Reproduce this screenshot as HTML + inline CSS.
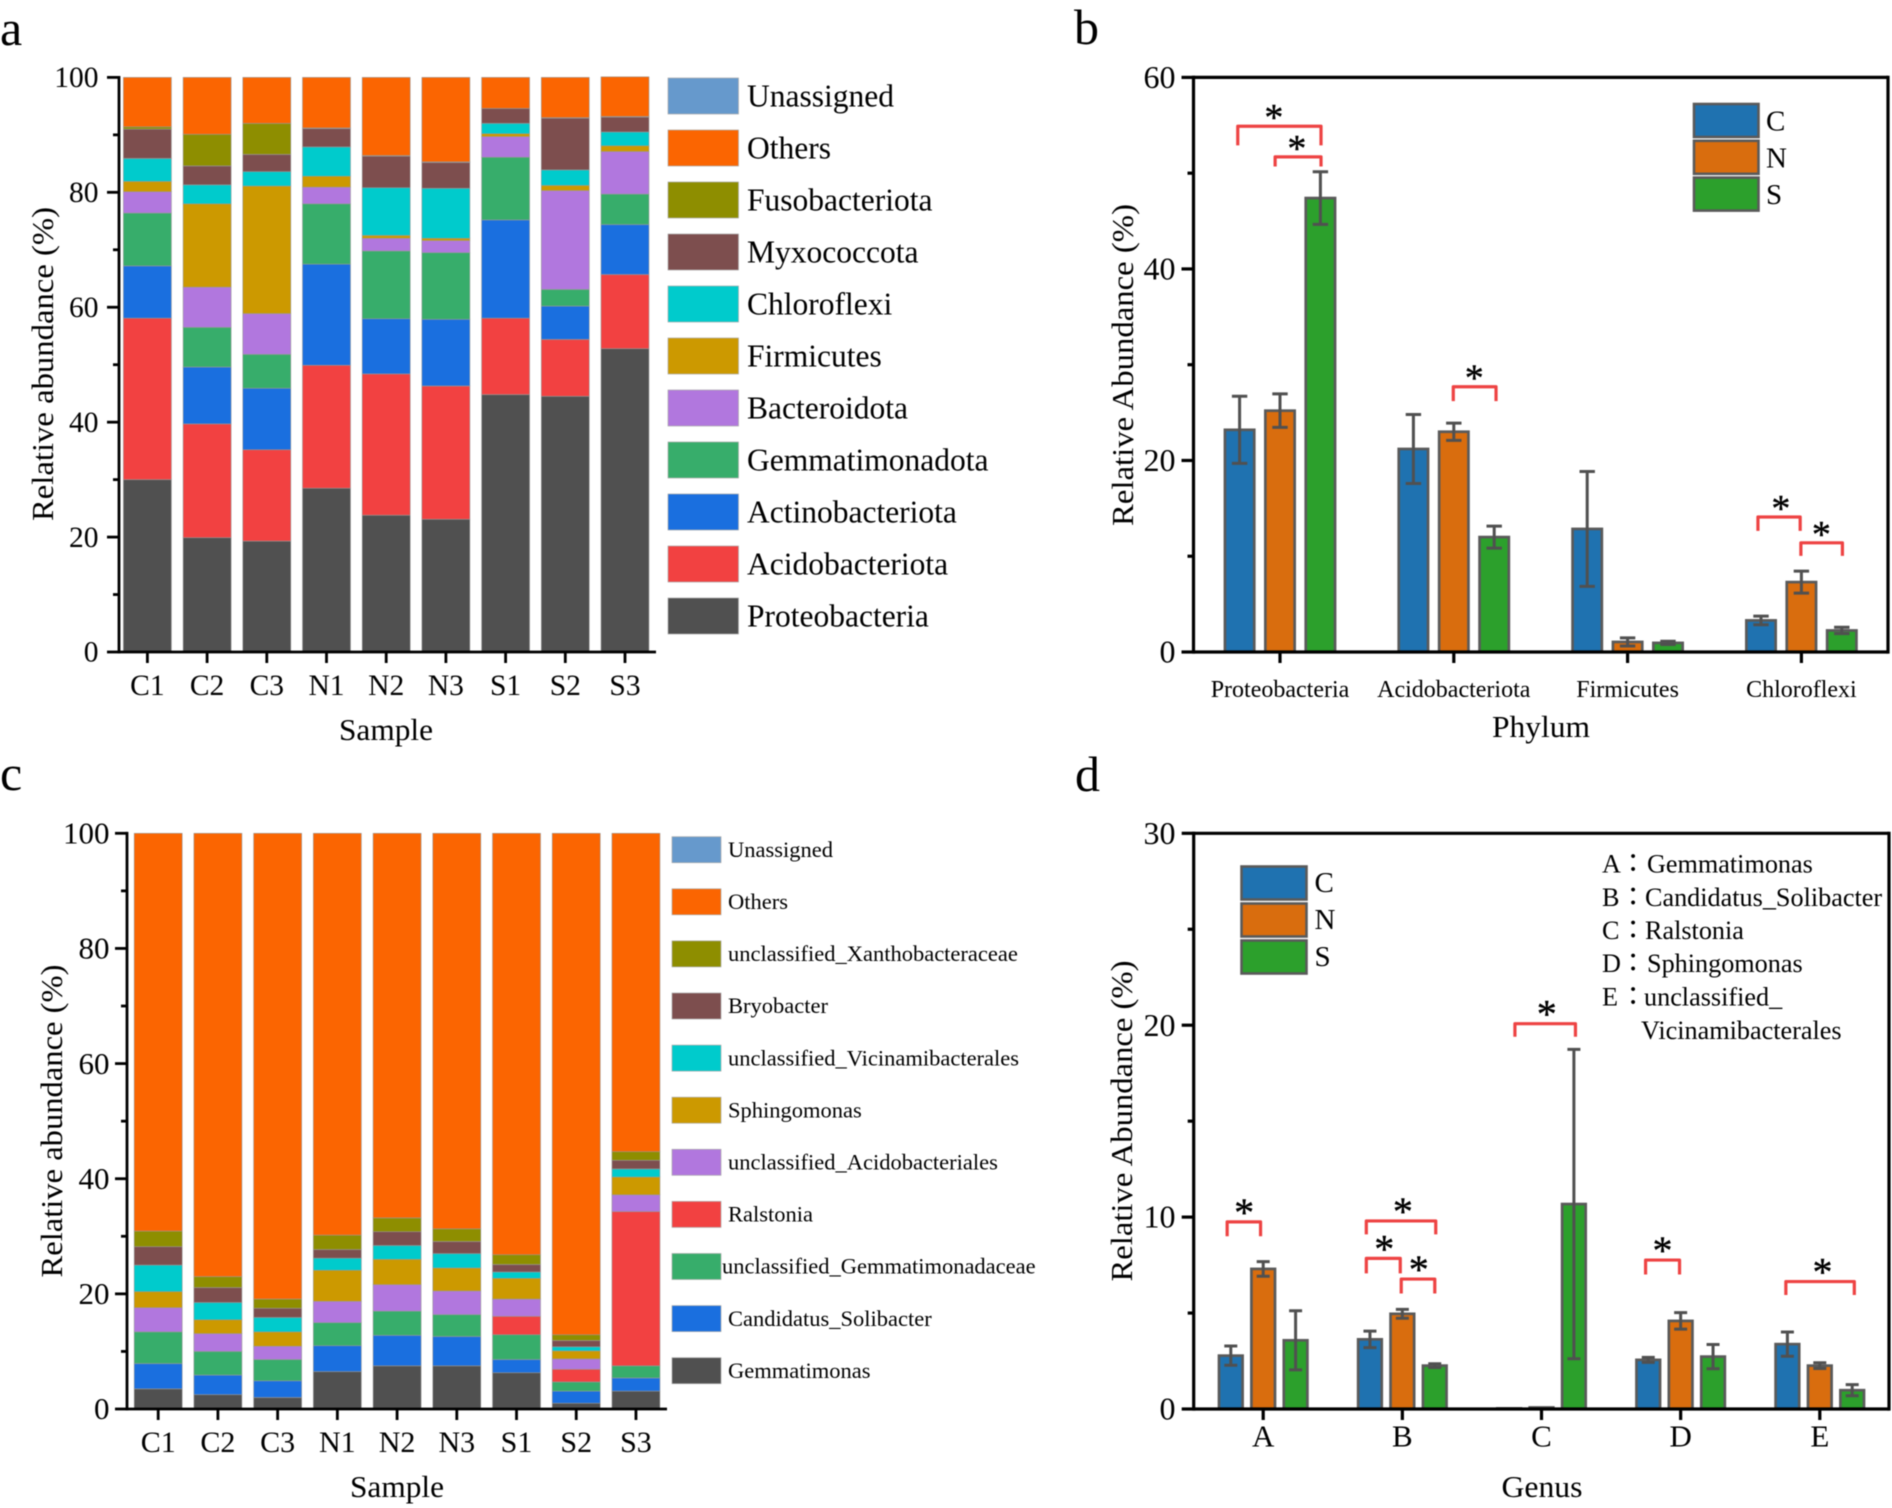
<!DOCTYPE html>
<html lang="en">
<head>
<meta charset="utf-8">
<title>Relative abundance charts</title>
<style>
html,body{margin:0;padding:0;background:#fff;}
svg{display:block;font-family:"Liberation Serif","Noto Serif CJK JP",serif;fill:#000;filter:blur(0.5px);}
</style>
</head>
<body>
<svg id="figure" xmlns="http://www.w3.org/2000/svg" width="1892" height="1508" viewBox="0 0 1892 1508">
<rect width="1892" height="1508" fill="#fff"/>
<g id="panel-a"></g>
<g id="panel-b"></g>
<g id="panel-c"></g>
<g id="panel-d"></g>

<text x="0" y="45" font-size="50">a</text>
<text x="1074" y="44" font-size="50">b</text>
<text x="0" y="790" font-size="50">c</text>
<text x="1075" y="791" font-size="50">d</text>

<text transform="translate(53,364) rotate(-90)" text-anchor="middle" font-size="31" textLength="314" lengthAdjust="spacingAndGlyphs">Relative abundance (%)</text>
<text x="386" y="740" text-anchor="middle" font-size="31" textLength="94" lengthAdjust="spacingAndGlyphs">Sample</text>

<text transform="translate(1133,365) rotate(-90)" text-anchor="middle" font-size="31" textLength="322" lengthAdjust="spacingAndGlyphs">Relative Abundance (%)</text>
<text x="1541" y="737" text-anchor="middle" font-size="31" textLength="98" lengthAdjust="spacingAndGlyphs">Phylum</text>

<text transform="translate(62,1121) rotate(-90)" text-anchor="middle" font-size="31" textLength="313" lengthAdjust="spacingAndGlyphs">Relative abundance (%)</text>
<text x="397" y="1497" text-anchor="middle" font-size="31" textLength="94" lengthAdjust="spacingAndGlyphs">Sample</text>

<text transform="translate(1132,1121) rotate(-90)" text-anchor="middle" font-size="31" textLength="321" lengthAdjust="spacingAndGlyphs">Relative Abundance (%)</text>
<text x="1542" y="1497" text-anchor="middle" font-size="31" textLength="81" lengthAdjust="spacingAndGlyphs">Genus</text>

<g font-size="26.2">
<text y="872.5"><tspan x="1602">A</tspan><tspan x="1620" font-family="'Noto Sans CJK JP',sans-serif">：</tspan><tspan x="1647">Gemmatimonas</tspan></text>
<text y="905.8"><tspan x="1602">B</tspan><tspan x="1620" font-family="'Noto Sans CJK JP',sans-serif">：</tspan><tspan x="1645">Candidatus_Solibacter</tspan></text>
<text y="939"><tspan x="1602">C</tspan><tspan x="1620" font-family="'Noto Sans CJK JP',sans-serif">：</tspan><tspan x="1645">Ralstonia</tspan></text>
<text y="972.2"><tspan x="1602">D</tspan><tspan x="1620" font-family="'Noto Sans CJK JP',sans-serif">：</tspan><tspan x="1647">Sphingomonas</tspan></text>
<text y="1005.4"><tspan x="1602">E</tspan><tspan x="1620" font-family="'Noto Sans CJK JP',sans-serif">：</tspan><tspan x="1644">unclassified_</tspan></text>
<text x="1641" y="1039">Vicinamibacterales</text>
</g>
</svg>

<script>
// ---------- Panel a data (percent per sample) ----------
const sampleLabels = ['C1','C2','C3','N1','N2','N3','S1','S2','S3'];
const stackTicks = [0,20,40,60,80,100];
const phylumNames = ['Proteobacteria','Acidobacteriota','Actinobacteriota','Gemmatimonadota','Bacteroidota','Firmicutes','Chloroflexi','Myxococcota','Fusobacteriota','Others','Unassigned'];
const aProteobacteria = [30.0,19.9,19.3,28.5,23.8,23.1,44.8,44.5,52.8];
const aAcidobacteriota = [28.1,19.8,15.9,21.4,24.6,23.2,13.3,9.9,12.9];
const aActinobacteriota = [9.1,9.9,10.7,17.6,9.6,11.6,17.1,5.8,8.7];
const aGemmatimonadota = [9.2,6.9,5.9,10.5,11.8,11.6,10.9,2.9,5.3];
const aBacteroidota = [3.7,7.0,7.1,2.9,2.2,2.1,3.6,17.2,7.4];
const aFirmicutes = [1.8,14.5,22.2,1.9,0.5,0.4,0.5,0.9,1.0];
const aChloroflexi = [4.0,3.3,2.5,5.1,8.3,8.7,1.8,2.7,2.4];
const aMyxococcota = [5.1,3.3,3.0,3.2,5.5,4.5,2.6,9.0,2.6];
const aFusobacteriota = [0.4,5.5,5.4,0.1,0.1,0.1,0,0.1,0.1];
const aOthers = [8.6,9.9,8.0,8.8,13.6,14.7,5.4,7.0,6.9];
const aUnassigned = [0,0,0,0,0,0,0,0,0];

// ---------- Panel c data (percent per sample) ----------
const genusNames = ['Gemmatimonas','Candidatus_Solibacter','unclassified_Gemmatimonadaceae','Ralstonia','unclassified_Acidobacteriales','Sphingomonas','unclassified_Vicinamibacterales','Bryobacter','unclassified_Xanthobacteraceae','Others','Unassigned'];
const cGemmatimonas = [3.5,2.5,2.0,6.5,7.5,7.5,6.3,1.0,3.1];
const cSolibacter = [4.4,3.4,2.9,4.5,5.3,5.1,2.3,2.1,2.3];
const cGemmatimonadaceae = [5.5,4.1,3.7,4.0,4.2,3.8,4.3,1.6,2.1];
const cRalstonia = [0,0,0,0,0,0,3.2,2.2,26.8];
const cAcidobacteriales = [4.2,3.1,2.3,3.7,4.6,4.1,3.0,1.8,2.9];
const cSphingomonas = [2.8,2.4,2.5,5.4,4.4,4.0,3.6,1.4,3.1];
const cVicinamibacterales = [4.6,3.0,2.5,2.1,2.4,2.5,1.1,0.7,1.4];
const cBryobacter = [3.2,2.6,1.6,1.5,2.4,2.1,1.3,1.1,1.5];
const cXanthobacteraceae = [2.7,1.9,1.6,2.5,2.4,2.2,1.7,1.0,1.5];
const cOthers = [69.1,77.0,80.9,69.8,66.8,68.7,73.2,87.1,55.3];
const cUnassigned = [0,0,0,0,0,0,0,0,0];

// ---------- Panel b data (mean and error per phylum) ----------
const treatmentNames = ['C','N','S'];
const bCategories = ['Proteobacteria','Acidobacteriota','Firmicutes','Chloroflexi'];
const bTicks = [0,20,40,60];
const bMeanC = [23.2,21.2,12.85,3.3];
const bMeanN = [25.2,23.0,1.05,7.3];
const bMeanS = [47.4,12.0,0.95,2.25];
const bErrC = [3.5,3.6,6.0,0.45];
const bErrN = [1.75,0.9,0.42,1.15];
const bErrS = [2.75,1.15,0.17,0.33];
// bracket: category index, left and right in category units, top and foot values, star offset
const bBrackets = [[0,-0.243,0.236,54.9,52.9,-0.035],[0,-0.028,0.236,51.7,50.7,0.097],[1,-0.003,0.243,27.7,26.2,0.118],[3,-0.25,-0.007,14.1,12.65,-0.118],[3,-0.003,0.236,11.4,10.04,0.115]];

// ---------- Panel d data (mean and error per genus) ----------
const dCategories = ['A','B','C','D','E'];
const dTicks = [0,10,20,30];
const dMeanC = [2.78,3.63,0.03,2.56,3.38];
const dMeanN = [7.3,4.96,0.08,4.59,2.26];
const dMeanS = [3.58,2.26,10.68,2.73,0.98];
const dErrC = [0.5,0.43,0,0.13,0.63];
const dErrN = [0.38,0.23,0,0.43,0.15];
const dErrS = [1.54,0.1,8.06,0.63,0.29];
const dBrackets = [[0,-0.259,-0.019,9.75,9.0,-0.137],[1,-0.259,0.24,9.8,9.1,0.004],[1,-0.259,-0.015,7.85,7.07,-0.13],[1,-0.008,0.233,6.77,6.02,0.118],[2,-0.191,0.244,20.08,19.4,0.038],[3,-0.252,-0.008,7.76,7.01,-0.13],[4,-0.244,0.248,6.64,5.94,0.019]];

const phylumColors = ['#505050','#f24141','#1a6fdf','#37ad6b','#b177de','#cc9900','#00cbcc','#7d4e4e','#8e8e00','#fb6501','#6699cc'];
const genusColors = ['#505050','#1a6fdf','#37ad6b','#f24141','#b177de','#cc9900','#00cbcc','#7d4e4e','#8e8e00','#fb6501','#6699cc'];
const treatmentColors = ['#1f72b0','#d96d0e','#2ca02c'];

const NS = 'http://www.w3.org/2000/svg';
function el(tag, attrs, parent){
  const node = document.createElementNS(NS, tag);
  for (const key in attrs) node.setAttribute(key, attrs[key]);
  parent.appendChild(node);
  return node;
}

function drawAxes(g, cfg, y, cx){
  const axis = el('g', {}, g);
  
  
  const half = cfg.axisWidth / 2;
  const lineStyle = {stroke:'#000','stroke-width':cfg.axisWidth};
  const yAxis = el('line', Object.assign({x1:cfg.x0,x2:cfg.x0,y1:cfg.y1-half,y2:cfg.y0+half}, lineStyle), axis);
  
  
  const xAxis = el('line', Object.assign({x1:cfg.x0,x2:cfg.x1,y1:cfg.y0,y2:cfg.y0}, lineStyle), axis);
  
  
  if (cfg.box){
    const top = el('line', Object.assign({x1:cfg.x0,x2:cfg.x1,y1:cfg.y1,y2:cfg.y1}, lineStyle), axis);
    
    
    const right = el('line', Object.assign({x1:cfg.x1,x2:cfg.x1,y1:cfg.y1-half,y2:cfg.y0+half}, lineStyle), axis);
    
    
  }
  cfg.ticks.forEach(function(v, i){
    const t = el('line', Object.assign({x1:cfg.x0-12,x2:cfg.x0,y1:y(v),y2:y(v)}, lineStyle), axis);
    
    
    const label = el('text', {x:cfg.tickRight,y:y(v)+cfg.tickFont*0.33,'text-anchor':'end','font-size':cfg.tickFont}, axis);
    label.textContent = v;
    
    
    if (i < cfg.ticks.length - 1){
      const mv = (v + cfg.ticks[i+1]) / 2;
      const m = el('line', Object.assign({x1:cfg.x0-6,x2:cfg.x0,y1:y(mv),y2:y(mv)}, lineStyle), axis);
      
      
    }
  });
  cfg.categories.forEach(function(c, i){
    const t = el('line', Object.assign({x1:cx(i),x2:cx(i),y1:cfg.y0,y2:cfg.y0+11}, lineStyle), axis);
    
    
    const label = el('text', {x:cx(i),y:cfg.catBase,'text-anchor':'middle','font-size':cfg.catFont}, axis);
    label.textContent = c;
    
    
  });
}

function drawStack(g, cfg, series, names, colors){
  const y = function(v){ return cfg.y0 - v / cfg.max * (cfg.y0 - cfg.y1); };
  const cx = function(i){ return cfg.first + i * cfg.step; };
  const bars = el('g', {}, g);
  
  
  cfg.categories.forEach(function(c, i){
    let base = 0;
    series.forEach(function(vals, s){
      const v = vals[i];
      if (v <= 0) return;
      const r = el('rect', {x:cx(i)-cfg.width/2,y:y(base+v),width:cfg.width,height:y(base)-y(base+v),fill:colors[s],stroke:'#999','stroke-width':0.6}, bars);
      
      
      base += v;
    });
  });
  drawAxes(g, cfg, y, cx);
  const legend = el('g', {}, g);
  
  
  names.forEach(function(name, s){
    const row = names.length - 1 - s;
    const top = cfg.legTop + row * cfg.legStep;
    const sw = el('rect', {x:cfg.legX,y:top,width:cfg.legW,height:cfg.legH,fill:colors[s],stroke:'#aaa','stroke-width':0.7}, legend);
    
    
    const tx = (name === 'unclassified_Gemmatimonadaceae') ? cfg.legTextX - 6 : cfg.legTextX;
    const label = el('text', {x:tx,y:top+cfg.legH/2+cfg.legFont*0.32+cfg.legShift,'font-size':cfg.legFont}, legend);
    label.textContent = name;
    
    
  });
}

function drawGrouped(g, cfg, means, errs, brackets){
  const y = function(v){ return cfg.y0 - v / cfg.max * (cfg.y0 - cfg.y1); };
  const cx = function(i){ return cfg.first + i * cfg.step; };
  const bars = el('g', {}, g);
  
  
  const sw = 2.7;
  cfg.categories.forEach(function(c, i){
    means.forEach(function(vals, s){
      const x = cx(i) + (s - 1) * cfg.offset;
      const v = vals[i];
      const r = el('rect', {x:x-cfg.width/2+sw/2,y:y(v),width:cfg.width-sw,height:y(0)-y(v),fill:treatmentColors[s],stroke:'#5a5a5a','stroke-width':sw}, bars);
      
      
      const e = errs[s][i];
      if (e > 0){
        const cap = cfg.cap;
        const path = 'M'+(x-cap)+' '+y(v+e)+'H'+(x+cap)+'M'+x+' '+y(v+e)+'V'+y(v-e)+'M'+(x-cap)+' '+y(v-e)+'H'+(x+cap);
        const err = el('path', {d:path,fill:'none',stroke:'#505050','stroke-width':3}, bars);
        
        
      }
    });
  });
  drawAxes(g, cfg, y, cx);
  const marks = el('g', {}, g);
  
  
  brackets.forEach(function(b){
    const x1 = cx(b[0]) + b[1] * cfg.step;
    const x2 = cx(b[0]) + b[2] * cfg.step;
    const path = 'M'+x1+' '+y(b[4])+'V'+y(b[3])+'H'+x2+'V'+y(b[4]);
    const br = el('path', {d:path,fill:'none',stroke:'#ee4343','stroke-width':3.2,'stroke-linejoin':'round'}, marks);
    
    
    const st = el('text', {x:cx(b[0])+b[5]*cfg.step,y:y(b[3])+cfg.starDy,'text-anchor':'middle','font-size':cfg.starFont,stroke:'#000','stroke-width':0.4}, marks);
    st.textContent = '*';
    
    
  });
  const legend = el('g', {}, g);
  
  
  treatmentNames.forEach(function(name, s){
    const top = cfg.legTop + s * cfg.legStep;
    const k = el('rect', {x:cfg.legX,y:top,width:cfg.legW,height:cfg.legH,fill:treatmentColors[s],stroke:'#5a5a5a','stroke-width':2.6}, legend);
    
    
    const label = el('text', {x:cfg.legTextX,y:top+cfg.legH/2+cfg.legBase,'font-size':29}, legend);
    label.textContent = name;
    
    
  });
}

drawStack(document.getElementById('panel-a'), {
  x0:119,x1:656,y0:652,y1:77.4,max:100,first:147.4,step:59.7,width:48,axisWidth:2.8,
  ticks:stackTicks,categories:sampleLabels,tickRight:98.5,tickFont:29.5,catBase:695,catFont:29.5,
  legX:668,legTop:78,legW:70.5,legH:36,legStep:52,legTextX:747,legFont:31.5,legShift:0.4
},[aProteobacteria,aAcidobacteriota,aActinobacteriota,aGemmatimonadota,aBacteroidota,aFirmicutes,aChloroflexi,aMyxococcota,aFusobacteriota,aOthers,aUnassigned],phylumNames,phylumColors);

drawGrouped(document.getElementById('panel-b'), {
  x0:1193.5,x1:1888,y0:652,y1:77.4,max:60,first:1280,step:173.8,offset:40.4,width:32,cap:7.7,box:true,axisWidth:3.2,
  ticks:bTicks,categories:bCategories,tickRight:1175.5,tickFont:32,catBase:697,catFont:24,starFont:38,starDy:4,
  legX:1694,legTop:104,legW:64.5,legH:33,legStep:36.8,legTextX:1766,legBase:10
},[bMeanC,bMeanN,bMeanS],[bErrC,bErrN,bErrS],bBrackets);

drawStack(document.getElementById('panel-c'), {
  x0:127,x1:667,y0:1409,y1:833.3,max:100,first:158.2,step:59.72,width:48,axisWidth:2.8,
  ticks:stackTicks,categories:sampleLabels,tickRight:109.5,tickFont:31,catBase:1452,catFont:30,
  legX:672,legTop:836.7,legW:49,legH:26,legStep:52.1,legTextX:728,legFont:22.5,legShift:0
},[cGemmatimonas,cSolibacter,cGemmatimonadaceae,cRalstonia,cAcidobacteriales,cSphingomonas,cVicinamibacterales,cBryobacter,cXanthobacteraceae,cOthers,cUnassigned],genusNames,genusColors);

drawGrouped(document.getElementById('panel-d'), {
  x0:1193.7,x1:1889,y0:1409,y1:833.3,max:30,first:1263.2,step:139.15,offset:32.4,width:26.3,cap:6.5,box:true,axisWidth:3.2,
  ticks:dTicks,categories:dCategories,tickRight:1175.5,tickFont:32,catBase:1446.5,catFont:31,starFont:40,starDy:4,
  legX:1241.5,legTop:866.5,legW:65,legH:33,legStep:37,legTextX:1314.5,legBase:9
},[dMeanC,dMeanN,dMeanS],[dErrC,dErrN,dErrS],dBrackets);
</script>
</body>
</html>
